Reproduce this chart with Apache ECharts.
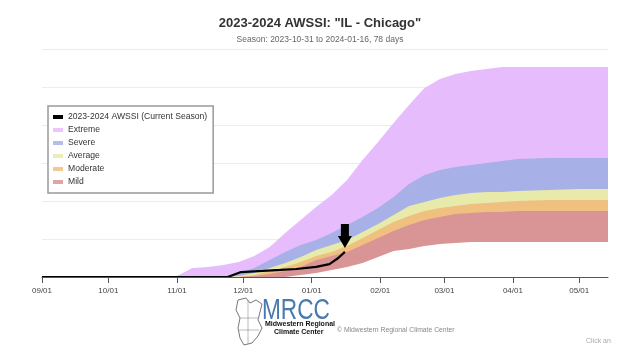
<!DOCTYPE html>
<html>
<head>
<meta charset="utf-8">
<script src="https://cdn.jsdelivr.net/npm/echarts@6/dist/echarts.min.js"></script>
<style>
html,body{margin:0;padding:0;background:#fff;}
#chart{width:640px;height:360px;}
</style>
</head>
<body>
<div id="chart"></div>
<script>
// ---- data ----
const bandDates = ['2023-10-20','2023-10-27','2023-11-01','2023-11-08','2023-11-15','2023-11-22','2023-11-29','2023-12-06','2023-12-13','2023-12-20','2023-12-27','2024-01-03','2024-01-10','2024-01-17','2024-01-24','2024-01-31','2024-02-07','2024-02-14','2024-02-21','2024-02-28','2024-03-06','2024-03-13','2024-03-20','2024-03-27','2024-04-03','2024-04-17','2024-05-01','2024-05-14'];
const mildBottom  = [0,0,0,0,0,0,0,0,0,0,11,21,37,53,74,105,137,147,163,174,179,184,184,184,184,184,184,184];
const mildTop     = [0,0,0,0,0,0,0,5,16,32,53,89,111,132,168,205,242,274,300,316,332,337,342,342,347,347,347,347];
const moderateTop = [0,0,0,0,0,0,0,11,32,53,79,111,132,163,205,247,289,321,347,363,374,384,389,395,400,405,405,405];
const averageTop  = [0,0,0,0,0,0,5,21,47,74,105,142,168,195,237,279,326,374,395,416,432,442,447,447,453,458,463,463];
const severeTop   = [0,0,0,0,0,0,21,47,89,132,168,195,232,274,316,363,421,489,537,563,579,589,600,611,621,626,626,626];
const extremeTop  = [0,0,5,47,53,63,79,111,158,232,300,368,432,511,616,711,811,905,995,1042,1068,1084,1095,1105,1105,1105,1105,1105];

const seasonDates  = ['2023-09-01','2023-11-24','2023-11-30','2023-12-10','2023-12-18','2023-12-25','2024-01-03','2024-01-09','2024-01-13','2024-01-16'];
const seasonValues = [0,0,26,32,37,42,53,68,100,132];

const tickDates  = ['2023-09-01','2023-10-01','2023-11-01','2023-12-01','2024-01-01','2024-02-01','2024-03-01','2024-04-01','2024-05-01'];
const tickLabels = ['09/01','10/01','11/01','12/01','01/01','02/01','03/01','04/01','05/01'];
const axisStart = '2023-09-01';
const axisEnd   = '2024-05-14';

const bandNames  = ['Extreme','Severe','Average','Moderate','Mild'];
const bandColors = {Mild:'#d99495', Moderate:'#efc07f', Average:'#e7eaa9', Severe:'#a7b1e7', Extreme:'#e6bcfc'};
const lineName = '2023-2024 AWSSI (Current Season)';

// ---- build ----
const ts = d => Date.UTC(+d.slice(0,4), +d.slice(5,7) - 1, +d.slice(8,10));
const tickTs = tickDates.map(ts);
const tops = {Mild: mildTop, Moderate: moderateTop, Average: averageTop, Severe: severeTop, Extreme: extremeTop};

const series = [];
bandNames.forEach((n, k) => {
  series.push({
    name: n, type: 'line', symbol: 'none', z: 2, zlevel: 0,
    lineStyle: {width: 0}, itemStyle: {color: bandColors[n]},
    areaStyle: {color: bandColors[n], opacity: 1, origin: 'start'},
    data: bandDates.map((d, i) => [ts(d), tops[n][i]])
  });
});
// white region below the Mild band
series.push({
  name: 'below', type: 'line', symbol: 'none', silent: true,
  lineStyle: {width: 0}, areaStyle: {color: '#fff', opacity: 1, origin: 'start'},
  data: bandDates.map((d, i) => [ts(d), mildBottom[i]])
});
const last = seasonValues.length - 1;
series.push({
  name: lineName, type: 'line', symbol: 'none', z: 5,
  lineStyle: {color: '#000', width: 2.2}, itemStyle: {color: '#000'},
  data: seasonDates.map((d, i) => [ts(d), seasonValues[i]]),
  markPoint: {
    symbol: 'path://M3,0 L11,0 L11,12 L14,12 L7,24 L0,12 L3,12 Z',
    symbolSize: [14, 24], symbolOffset: [0, -16], silent: true,
    itemStyle: {color: '#000'}, label: {show: false},
    data: [{coord: [ts(seasonDates[last]), seasonValues[last]]}]
  }
});

const FF = 'Liberation Sans, Arial';
const chart = echarts.init(document.getElementById('chart'), null, {renderer: 'canvas'});
chart.setOption({
  animation: false,
  backgroundColor: '#fff',
  title: {
    text: '2023-2024 AWSSI: "IL - Chicago"',
    subtext: 'Season: 2023-10-31 to 2024-01-16, 78 days',
    left: 'center', top: 12, itemGap: 5,
    textStyle: {fontFamily: FF, fontSize: 13, fontWeight: 'bold', color: '#333'},
    subtextStyle: {fontFamily: FF, fontSize: 8.5, color: '#666'}
  },
  legend: {
    orient: 'vertical', left: 48, top: 106,
    padding: [6, 6, 6, 5], itemGap: 3, itemWidth: 10, itemHeight: 4,
    borderColor: '#999', borderWidth: 1.5, backgroundColor: '#fff',
    textStyle: {fontFamily: FF, fontSize: 8.6, color: '#333', lineHeight: 10},
    data: [
      {name: lineName, icon: 'rect', itemStyle: {color: '#000'}},
      {name: 'Extreme', icon: 'rect', itemStyle: {color: bandColors.Extreme, opacity: 0.85}},
      {name: 'Severe', icon: 'rect', itemStyle: {color: bandColors.Severe, opacity: 0.85}},
      {name: 'Average', icon: 'rect', itemStyle: {color: bandColors.Average, opacity: 0.85}},
      {name: 'Moderate', icon: 'rect', itemStyle: {color: bandColors.Moderate, opacity: 0.85}},
      {name: 'Mild', icon: 'rect', itemStyle: {color: bandColors.Mild, opacity: 0.85}}
    ]
  },
  grid: {left: 42, right: 32, top: 49, bottom: 83, containLabel: false},
  xAxis: {
    type: 'value', z: 10,
    min: ts(axisStart), max: ts(axisEnd),
    axisLine: {lineStyle: {color: '#555', width: 1}},
    axisTick: {show: true, length: 6, lineStyle: {color: '#555'}, customValues: tickTs},
    axisLabel: {
      customValues: tickTs, margin: 10, fontSize: 8, color: '#444',
      fontFamily: FF,
      formatter: v => { const i = tickTs.indexOf(v); return i >= 0 ? tickLabels[i] : ''; }
    },
    splitLine: {show: false}
  },
  yAxis: {
    type: 'value', min: 0, max: 1200, interval: 200,
    axisLabel: {show: false}, axisLine: {show: false}, axisTick: {show: false},
    splitLine: {lineStyle: {color: '#ececec', width: 1}}
  },
  series: series,
  graphic: [
    {type: 'polyline', shape: {points: [[238,300],[246,298],[250,303],[256,300],[262,304],[260,312],[258,320],[262,328],[258,336],[252,343],[244,345],[240,338],[238,328],[240,318],[236,310],[238,300]]},
     style: {stroke: '#555', fill: 'none', lineWidth: 0.8}},
    {type: 'polyline', shape: {points: [[240,318],[258,318]]}, style: {stroke: '#777', lineWidth: 0.5}},
    {type: 'polyline', shape: {points: [[239,330],[259,330]]}, style: {stroke: '#777', lineWidth: 0.5}},
    {type: 'polyline', shape: {points: [[248,300],[248,344]]}, style: {stroke: '#777', lineWidth: 0.5}},
    {type: 'text', x: 262, y: 296, scaleX: 0.78, style: {text: 'MRCC', fontFamily: FF, fontSize: 29, fill: '#4a78b0'}},
    {type: 'text', x: 265, y: 321, style: {text: 'Midwestern Regional', fontFamily: FF, fontSize: 7, fontWeight: 'bold', fill: '#111'}},
    {type: 'text', x: 274, y: 329, style: {text: 'Climate Center', fontFamily: FF, fontSize: 7, fontWeight: 'bold', fill: '#111'}},
    {type: 'text', x: 337, y: 327, style: {text: '\u00a9 Midwestern Regional Climate Center', fontFamily: FF, fontSize: 6.8, fill: '#888'}},
    {type: 'text', x: 586, y: 338, style: {text: 'Click an', fontFamily: FF, fontSize: 7, fill: '#aaa'}}
  ]
});
</script>
</body>
</html>
